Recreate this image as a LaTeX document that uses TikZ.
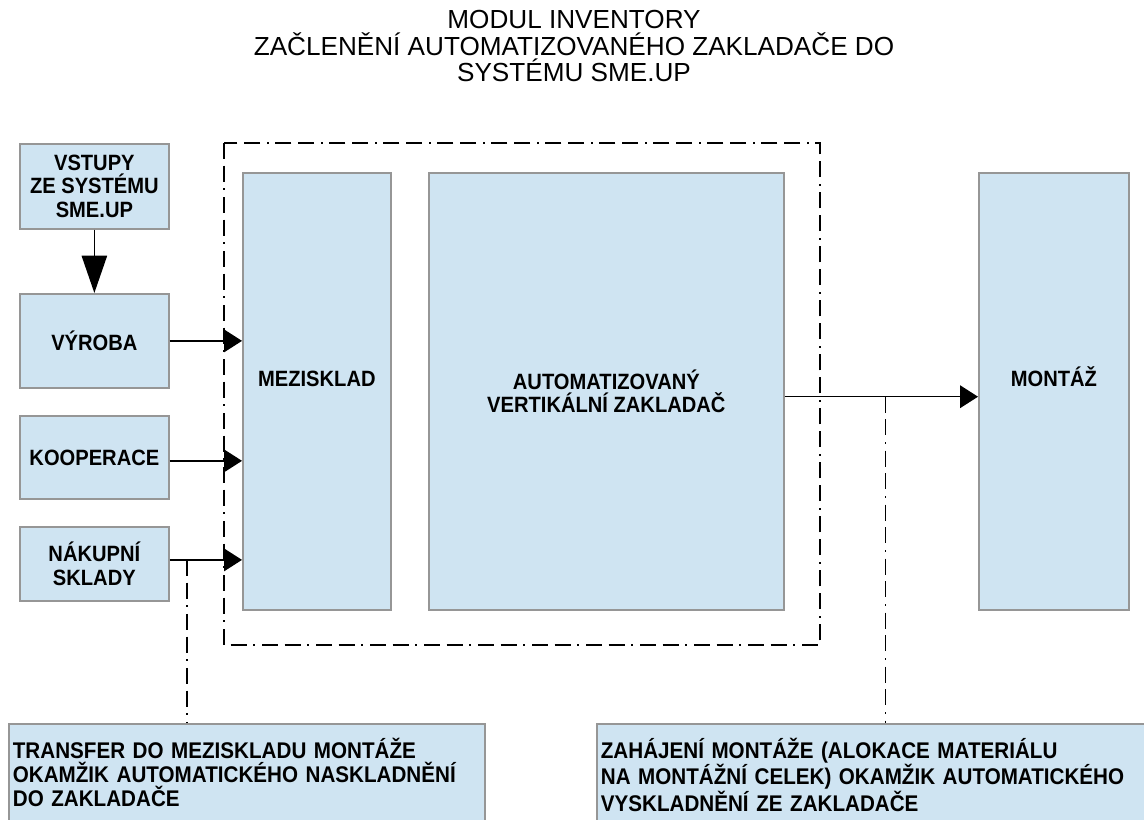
\documentclass[tikz,border=0pt]{standalone}
\usepackage{fontspec}
\setmainfont{Liberation Sans}
\newfontfamily\narrowsf[FakeStretch=0.91]{Liberation Sans}
\usepackage{tikz}
\usetikzlibrary{arrows.meta,positioning}
\definecolor{boxfill}{RGB}{207,228,242}
\definecolor{boxline}{RGB}{150,150,150}

\begin{document}
\begin{tikzpicture}[
  x=0.75pt, y=-0.75pt,
  boxfont/.style={font=\narrowsf\bfseries\fontsize{16.6}{17.6}\selectfont},
  box/.style={draw=boxline, fill=boxfill, line width=1.3pt, anchor=north west, inner sep=0pt, align=center, minimum width=111.75pt, boxfont},
  note/.style={draw=boxline, fill=boxfill, line width=1.3pt, anchor=north west, align=left, inner xsep=3pt, inner ysep=10pt, text depth=40pt, font=\narrowsf\bfseries\fontsize{17}{18}\selectfont},
  arr/.style={-{Triangle[length=13.5pt,width=17pt]}, line width=1.1pt},
  bigarr/.style={-{Triangle[length=28pt,width=19pt]}, line width=1.1pt},
  frame/.style={line width=1.1pt, dash pattern=on 12pt off 5pt on 12pt off 5pt on 1.5pt off 5pt},
  leader/.style={frame}
]
\useasboundingbox (0,0) rectangle (1144,819);
\clip (0,0) rectangle (1144,819);

\node[align=center, font=\fontsize{19.6}{19.9}\selectfont] (title) at (574,46) {MODUL INVENTORY\\ZAČLENĚNÍ AUTOMATIZOVANÉHO ZAKLADAČE DO\\SYSTÉMU SME.UP};

% frame round the store
\draw[frame] (224,143) rectangle (820,645);

% sources
\node[box, minimum height=63.75pt] (vstupy) at (19,143) {VSTUPY\\ZE SYSTÉMU\\SME.UP};
\node[box, minimum height=70.5pt] (vyroba) at (19,293) {VÝROBA};
\node[box, minimum height=62.25pt] (koop) at (19,415) {KOOPERACE};
\node[box, minimum height=55.5pt] (nakup) at (19,526) {NÁKUPNÍ\\SKLADY};

% store and assembly
\node[box, minimum width=111pt, minimum height=327.75pt, text height=12pt, text depth=20pt] (mezi) at (242,172) {MEZISKLAD};
\node[box, minimum width=266.25pt, minimum height=327.75pt] (automat) at (428,172) {AUTOMATIZOVANÝ\\VERTIKÁLNÍ ZAKLADAČ};
\node[box, minimum width=112.5pt, minimum height=327.75pt, text height=12pt, text depth=20pt] (montaz) at (978,172) {MONTÁŽ};

% notes
\node[note, text width=351pt] (transfer) at (8,723) {\rule{0pt}{16pt}TRANSFER DO MEZISKLADU MONTÁŽE\\OKAMŽIK AUTOMATICKÉHO NASKLADNĚNÍ\\DO ZAKLADAČE};
\node[note, text width=430pt] (zahajeni) at (596,723) {\rule{0pt}{16pt}ZAHÁJENÍ MONTÁŽE (ALOKACE MATERIÁLU\\NA MONTÁŽNÍ CELEK) OKAMŽIK AUTOMATICKÉHO\\VYSKLADNĚNÍ ZE ZAKLADAČE};

% flows
\draw[bigarr] (vstupy) -- (vyroba);
\draw[arr] (vyroba) -- (vyroba -| mezi.west);
\draw[arr] ([yshift=-2.6pt]koop.east) -- ([yshift=-2.6pt]koop.east -| mezi.west);
\draw[arr] ([yshift=3pt]nakup.east) -- coordinate[pos=0.24] (nlead) ([yshift=3pt]nakup.east -| mezi.west);
\draw[arr] ([yshift=-4pt]automat.east) -- coordinate[pos=0.52] (mlead) ([yshift=-4pt]automat.east -| montaz.west);

% leaders to the notes
\draw[leader] (nlead) -- (nlead |- transfer.north);
\draw[leader] (mlead) -- (mlead |- zahajeni.north);
\end{tikzpicture}
\end{document}
